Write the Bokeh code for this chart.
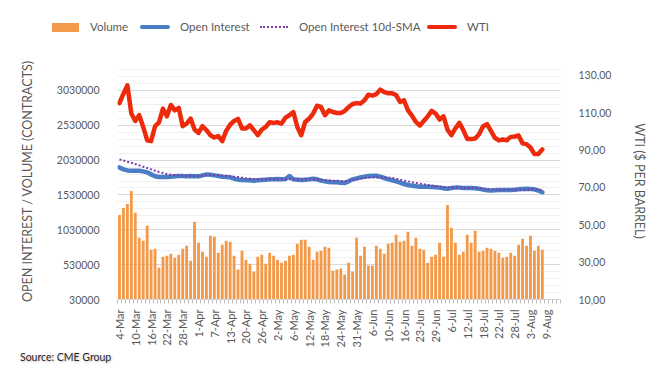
from math import pi
from bokeh.plotting import figure
from bokeh.layouts import column
from bokeh.models import (ColumnDataSource, LinearAxis, Range1d, FixedTicker, Div,
                          NumeralTickFormatter)
from bokeh.embed import file_html
from bokeh.resources import INLINE

# ---------------- data ----------------
date_labels = ["4-Mar", "10-Mar", "16-Mar", "22-Mar", "28-Mar", "1-Apr", "7-Apr", "13-Apr",
               "20-Apr", "26-Apr", "2-May", "6-May", "12-May", "18-May", "24-May", "31-May",
               "6-Jun", "10-Jun", "16-Jun", "23-Jun", "29-Jun", "6-Jul", "12-Jul", "18-Jul",
               "22-Jul", "28-Jul", "3-Aug", "9-Aug"]

volume_k = [1244, 1344, 1401, 1587, 1273, 916, 873, 1087, 744, 759,
            487, 644, 659, 687, 630, 673, 759, 801, 587, 1144,
            844, 716, 644, 944, 930, 701, 816, 873, 859, 659,
            459, 730, 601, 544, 430, 644, 673, 544, 701, 659,
            601, 559, 587, 659, 673, 830, 887, 887, 787, 601,
            716, 730, 787, 773, 444, 459, 473, 387, 559, 430,
            916, 659, 787, 516, 516, 801, 759, 687, 830, 844,
            959, 859, 873, 1001, 801, 916, 759, 744, 559, 644,
            673, 844, 644, 1387, 1059, 844, 673, 716, 959, 844,
            1016, 716, 730, 773, 759, 730, 701, 630, 644, 701,
            659, 816, 901, 801, 944, 730, 801, 744]

open_interest_k = [1925, 1897, 1882, 1878, 1878, 1878, 1868, 1854, 1825, 1797,
                   1787, 1787, 1787, 1792, 1797, 1801, 1801, 1797, 1801, 1797,
                   1797, 1811, 1825, 1820, 1811, 1801, 1792, 1787, 1782, 1763,
                   1749, 1744, 1740, 1740, 1735, 1740, 1744, 1749, 1754, 1754,
                   1759, 1754, 1759, 1801, 1754, 1749, 1744, 1749, 1754, 1763,
                   1754, 1735, 1725, 1716, 1711, 1711, 1706, 1701, 1725, 1754,
                   1768, 1782, 1792, 1801, 1806, 1806, 1792, 1773, 1754, 1740,
                   1725, 1706, 1687, 1673, 1663, 1654, 1649, 1649, 1649, 1644,
                   1640, 1635, 1625, 1620, 1630, 1635, 1635, 1630, 1630, 1630,
                   1625, 1620, 1606, 1597, 1592, 1597, 1601, 1601, 1601, 1601,
                   1606, 1611, 1616, 1620, 1616, 1611, 1592, 1568]

oi_sma10_k = [2040, 2025, 2006, 1992, 1973, 1954, 1935, 1916, 1897, 1878,
              1859, 1844, 1830, 1820, 1816, 1811, 1806, 1801, 1801, 1801,
              1801, 1806, 1811, 1816, 1816, 1811, 1806, 1801, 1797, 1792,
              1787, 1778, 1768, 1763, 1759, 1754, 1754, 1754, 1754, 1754,
              1754, 1754, 1754, 1754, 1754, 1754, 1754, 1754, 1754, 1754,
              1754, 1749, 1744, 1740, 1735, 1735, 1730, 1725, 1735, 1744,
              1754, 1763, 1773, 1778, 1782, 1782, 1782, 1782, 1778, 1773,
              1763, 1749, 1735, 1725, 1711, 1701, 1692, 1682, 1673, 1663,
              1659, 1649, 1644, 1640, 1635, 1635, 1635, 1630, 1630, 1630,
              1630, 1625, 1620, 1616, 1611, 1606, 1606, 1606, 1606, 1606,
              1606, 1606, 1606, 1606, 1611, 1611, 1606, 1601]

wti = [115.2, 120.2, 124.7, 109.6, 105.6, 108.7, 102.4, 95.3, 94.8, 102.8,
       104.9, 112.2, 108.1, 114.2, 111.3, 112.6, 102.8, 104.2, 106.9, 101.0,
       99.2, 102.8, 100.7, 98.0, 96.8, 97.5, 94.8, 100.3, 103.6, 105.6,
       106.7, 101.6, 101.6, 103.3, 100.7, 98.0, 101.0, 102.4, 104.9, 104.6,
       104.9, 104.2, 107.4, 108.7, 110.4, 102.4, 98.0, 105.1, 106.9, 109.6,
       113.8, 113.1, 108.7, 111.3, 110.4, 109.9, 109.9, 111.0, 113.1, 114.7,
       115.2, 114.9, 116.7, 119.7, 119.2, 120.0, 122.4, 121.1, 120.4, 120.4,
       119.5, 115.8, 116.7, 111.3, 108.5, 105.1, 103.2, 105.6, 108.1, 111.0,
       109.6, 106.4, 108.1, 101.0, 98.0, 101.6, 104.6, 100.7, 96.0, 95.9,
       96.2, 98.5, 102.8, 103.9, 100.3, 96.6, 95.2, 95.7, 95.3, 97.1,
       97.3, 97.8, 93.6, 93.2, 91.4, 87.9, 87.9, 90.4]

left_ticks = [30000, 530000, 1030000, 1530000, 2030000, 2530000, 3030000]
right_ticks = [10, 30, 50, 70, 90, 110, 130]
right_tick_labels = ["10,00", "30,00", "50,00", "70,00", "90,00", "110,00", "130,00"]

series_names = ["Volume", "Open Interest", "Open Interest 10d-SMA", "WTI"]
source_note = "Source: CME Group"

# ---------------- styles ----------------
FONT = "Lato"
TXT = "#595959"
C_VOL = "#F39A4A"
C_OI = "#4A7EC4"
C_SMA = "#7A3DAA"
C_WTI = "#EE2A0C"

W = 661
H_TOP = 44
H_BOT = 26
H_MAIN = 376 - H_TOP - H_BOT

# ---------------- main chart ----------------
n = len(volume_k)
src = ColumnDataSource(dict(
    x=list(range(n)),
    vol=[v * 1000 for v in volume_k],
    oi=[v * 1000 for v in open_interest_k],
    sma=[v * 1000 for v in oi_sma10_k],
    wti=wti,
))

p = figure(width=W, height=H_MAIN, output_backend="svg", toolbar_location=None,
           x_range=Range1d(-0.5, 111.6), y_range=Range1d(30000, 3430000),
           min_border_left=117, min_border_right=101,
           min_border_top=62 - H_TOP, min_border_bottom=H_MAIN - (300 - H_TOP))
p.outline_line_color = None
p.extra_y_ranges = {"wti": Range1d(10, 136.93)}

p.vbar(x="x", top="vol", bottom=30000, width=0.72, source=src,
       fill_color=C_VOL, line_color=None)
p.line(x="x", y="oi", source=src, line_color=C_OI, line_width=4.5,
       line_join="round", line_cap="round")
p.line(x="x", y="sma", source=src, line_color=C_SMA, line_width=2, line_dash="2 2")
p.line(x="x", y="wti", source=src, y_range_name="wti", line_color=C_WTI,
       line_width=4.5, line_join="round", line_cap="round")

ya = p.yaxis[0]
ya.ticker = FixedTicker(ticks=left_ticks,
                        minor_ticks=[30000 + 100000 * k for k in range(35)])
ya.formatter = NumeralTickFormatter(format="0")
ya.axis_label = "OPEN INTEREST / VOLUME (CONTRACTS)"

ra = LinearAxis(y_range_name="wti", ticker=FixedTicker(ticks=right_ticks),
                major_label_overrides={t: s for t, s in zip(right_ticks, right_tick_labels)},
                axis_label="WTI ($ PER BARREL)")
p.add_layout(ra, "right")

for ax in (ya, ra):
    ax.axis_line_color = None
    ax.major_tick_line_color = None
    ax.minor_tick_line_color = None
    ax.major_label_text_font = FONT
    ax.major_label_text_font_size = "10.5px"
    ax.major_label_text_color = TXT
    ax.axis_label_text_font = FONT
    ax.axis_label_text_font_size = "12.5px"
    ax.axis_label_text_font_style = "normal"
    ax.axis_label_text_color = TXT
ya.major_label_standoff = 12
ya.axis_label_standoff = 19
ra.major_label_standoff = 12
ra.axis_label_standoff = 18

xa = p.xaxis[0]
xa.ticker = FixedTicker(ticks=list(range(0, 4 * len(date_labels), 4)),
                        minor_ticks=[i - 0.5 for i in range(0, 113)])
xa.major_label_overrides = {4 * k: s for k, s in enumerate(date_labels)}
xa.major_label_orientation = pi / 2
xa.major_label_text_font = FONT
xa.major_label_text_font_size = "11px"
xa.major_label_text_color = TXT
xa.major_tick_line_color = None
xa.major_tick_out = 0
xa.major_tick_in = 0
xa.minor_tick_line_color = "#BFBFBF"
xa.minor_tick_out = 4
xa.minor_tick_in = 0
xa.axis_line_color = "#D9D9D9"
xa.major_label_standoff = 6

p.xgrid.grid_line_color = None
p.ygrid.grid_line_color = "#D9D9D9"
p.ygrid.minor_grid_line_color = "#F0F0F0"

# ---------------- legend strip (HTML) ----------------
DY = 1

def swatch(left, top, style):
    return f'<span style="position:absolute;left:{left}px;top:{top + DY}px;{style}"></span>'

def label(left, text):
    return (f'<span style="position:absolute;left:{left}px;top:{18 + DY}px;line-height:16px;'
            f'white-space:nowrap;">{text}</span>')

legend_html = (
    f'<div style="position:relative;width:{W}px;height:{H_TOP}px;font-family:{FONT};'
    f'font-size:11.5px;color:{TXT};">'
    + swatch(52, 22, f"width:27px;height:9px;background:{C_VOL};")
    + label(90, series_names[0])
    + swatch(140, 24, f"width:30px;height:4px;border-radius:2px;background:{C_OI};")
    + label(180, series_names[1])
    + swatch(260, 25, f"width:28px;height:0;border-top:2px dotted {C_SMA};")
    + label(299, series_names[2])
    + swatch(427, 24, f"width:30px;height:4px;border-radius:2px;background:{C_WTI};")
    + label(467, series_names[3])
    + '</div>'
)
leg = Div(text=legend_html, width=W, height=H_TOP, margin=(0, 0, 0, 0))

source_html = (
    f'<div style="position:relative;width:{W}px;height:{H_BOT}px;font-family:{FONT};'
    f'font-size:10.5px;color:#262626;">'
    f'<span style="position:absolute;left:20px;top:1px;line-height:12px;'
    f'text-shadow:1px 1px 2px rgba(0,0,0,0.25);">{source_note}</span></div>'
)
bot = Div(text=source_html, width=W, height=H_BOT, margin=(0, 0, 0, 0))

layout = column(leg, p, bot, spacing=0)
open("out.html", "w").write(file_html(layout, INLINE))
